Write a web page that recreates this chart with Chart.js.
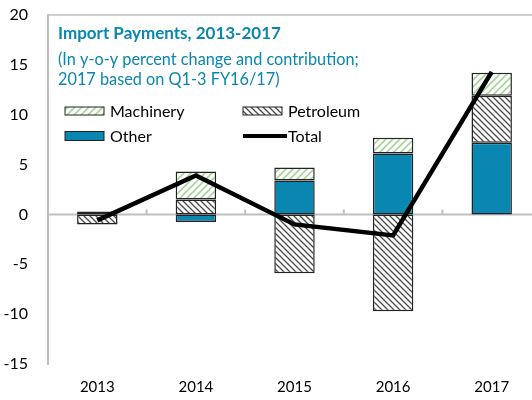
<!DOCTYPE html>
<html>
<head>
<meta charset="utf-8">
<script src="https://cdn.jsdelivr.net/npm/chart.js@4/dist/chart.umd.min.js"></script>
<style>
  html, body { margin: 0; padding: 0; background: #fff; overflow: hidden; }
  #chart { display: block; }
</style>
</head>
<body>
<canvas id="chart" width="545" height="400"></canvas>
<script>
// data
const years = ['2013', '2014', '2015', '2016', '2017'];
const machinery = [0.3, 2.8, 1.3, 1.6, 2.3];
const petroleum = [-1.0, 1.5, -5.9, -9.7, 4.7];
const other = [null, -0.75, 3.4, 6.1, 7.2];
const total = [-0.6, 3.9, -1.0, -2.1, 14.3];
const yMin = -15, yMax = 20, yStep = 5;

const titleText = 'Import Payments, 2013-2017';
const subtitleLines = ['(In y-o-y percent change and contribution;', '2017 based on Q1-3 FY16/17)'];

const FONT = 'Lato, "Open Sans", sans-serif';
const TEAL = '#0a87b0';
const AXIS_GREY = '#bfbfbf';

// hatch patterns
function hatch(color, size, lw, forward) {
    const c = document.createElement('canvas');
    c.width = c.height = size;
    const g = c.getContext('2d');
    g.fillStyle = '#fff';
    g.fillRect(0, 0, size, size);
    g.strokeStyle = color;
    g.lineWidth = lw;
    g.beginPath();
    if (forward) {
        g.moveTo(0, size); g.lineTo(size, 0);
        g.moveTo(-1, 1); g.lineTo(1, -1);
        g.moveTo(size - 1, size + 1); g.lineTo(size + 1, size - 1);
    } else {
        g.moveTo(0, 0); g.lineTo(size, size);
        g.moveTo(-1, size - 1); g.lineTo(1, size + 1);
        g.moveTo(size - 1, -1); g.lineTo(size + 1, 1);
    }
    g.stroke();
    return g.createPattern(c, 'repeat');
}

const ctx = document.getElementById('chart').getContext('2d');
const machineryFill = hatch('#a8d59a', 7, 1.6, true);
const petroleumFill = hatch('#4a4a4a', 6, 1.3, false);

// zero line + boundary ticks, drawn under the bars
const zeroLine = {
    id: 'zeroLine',
    beforeDatasetsDraw(chart) {
        const { ctx, chartArea, scales: { x, y } } = chart;
        const y0 = y.getPixelForValue(0);
        ctx.save();
        ctx.strokeStyle = AXIS_GREY;
        ctx.lineWidth = 2;
        ctx.beginPath();
        ctx.moveTo(chartArea.left, y0);
        ctx.lineTo(chartArea.right, y0);
        for (let i = 0; i < years.length - 1; i++) {
            const bx = (x.getPixelForValue(i) + x.getPixelForValue(i + 1)) / 2;
            ctx.moveTo(bx, y0);
            ctx.lineTo(bx, y0 - 5);
        }
        ctx.stroke();
        // top frame
        ctx.lineWidth = 1.5;
        ctx.beginPath();
        ctx.moveTo(chartArea.left, chartArea.top);
        ctx.lineTo(chartArea.right, chartArea.top);
        ctx.stroke();
        ctx.restore();
    }
};

// title and legend sit inside the plot box
const insideText = {
    id: 'insideText',
    afterDraw(chart) {
        const { ctx, chartArea } = chart;
        const left = chartArea.left + 10;
        ctx.save();
        ctx.fillStyle = TEAL;
        ctx.textBaseline = 'alphabetic';
        ctx.font = 'bold 17px ' + FONT;
        ctx.fillText(titleText, left, 39);
        ctx.font = '16.3px ' + FONT;
        subtitleLines.forEach((t, i) => ctx.fillText(t, left, 65 + i * 20));

        // legend, 2 columns
        const ds = chart.data.datasets;
        const items = ['Machinery', 'Petroleum', 'Other', 'Total'].map(n => ds.find(d => d.label === n));
        ctx.font = '16px ' + FONT;
        items.forEach((d, i) => {
            const col = i % 2, row = Math.floor(i / 2);
            const bx = chartArea.left + 17 + col * 178;
            const cy = 111 + row * 25;
            if (d.type === 'line') {
                ctx.strokeStyle = '#000';
                ctx.lineWidth = 4;
                ctx.beginPath();
                ctx.moveTo(bx, cy);
                ctx.lineTo(bx + 44, cy);
                ctx.stroke();
            } else {
                const h = row === 0 ? 8 : 9;
                ctx.fillStyle = d.backgroundColor;
                ctx.fillRect(bx, cy - h / 2, 39, h);
                ctx.strokeStyle = '#222';
                ctx.lineWidth = 1;
                ctx.strokeRect(bx, cy - h / 2, 39, h);
            }
            ctx.fillStyle = '#000';
            ctx.textBaseline = 'middle';
            ctx.fillText(d.label, bx + 45, cy + 1);
        });
        ctx.restore();
    }
};

new Chart(ctx, {
    data: {
        labels: years,
        datasets: [
            {
                type: 'line',
                label: 'Total',
                data: total,
                borderColor: '#000',
                borderWidth: 4.5,
                pointRadius: 0,
                tension: 0,
                stack: 'line',
                order: 0
            },
            {
                type: 'bar',
                label: 'Other',
                data: other,
                backgroundColor: '#0a87b0',
                borderColor: '#222',
                borderWidth: 1.5,
                borderSkipped: false,
                order: 1
            },
            {
                type: 'bar',
                label: 'Petroleum',
                data: petroleum,
                backgroundColor: petroleumFill,
                borderColor: '#222',
                borderWidth: 1.5,
                borderSkipped: false,
                order: 1
            },
            {
                type: 'bar',
                label: 'Machinery',
                data: machinery,
                backgroundColor: machineryFill,
                borderColor: '#222',
                borderWidth: 1.5,
                borderSkipped: false,
                order: 1
            }
        ]
    },
    options: {
        responsive: false,
        animation: false,
        layout: { padding: { top: 15, right: 4, left: 0, bottom: 0 }, autoPadding: false },
        datasets: {
            bar: { barPercentage: 0.41, categoryPercentage: 1 }
        },
        scales: {
            x: {
                stacked: true,
                grid: { display: false },
                border: { display: false },
                ticks: { color: '#000', font: { family: FONT, size: 15 }, padding: 6 },
                afterFit(scale) {
                    scale.height = 36;
                    scale.paddingLeft = scale.paddingRight = 0;
                }
            },
            y: {
                stacked: true,
                min: yMin,
                max: yMax,
                grid: { display: false },
                border: { display: true, color: AXIS_GREY, width: 2 },
                ticks: { stepSize: yStep, color: '#000', font: { family: FONT, size: 16 }, padding: 12 },
                afterFit(scale) {
                    scale.width = 48;
                    scale.paddingTop = scale.paddingBottom = 0;
                }
            }
        },
        plugins: {
            legend: { display: false },
            tooltip: { enabled: false }
        }
    },
    plugins: [zeroLine, insideText]
});
</script>
</body>
</html>
